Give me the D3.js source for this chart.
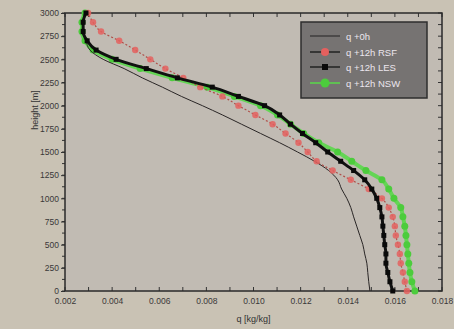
<!DOCTYPE html>
<html><head><meta charset="utf-8">
<script src="https://cdn.jsdelivr.net/npm/d3@7"></script>
<style>
html,body{margin:0;padding:0;background:#c9c2b4;}
svg{display:block;font-family:"Liberation Sans",Arial,sans-serif;}
</style></head>
<body><svg id="c" width="454" height="329"></svg>
<script>
// heights [m], ascending
const heights = d3.range(0, 3001, 100);
// specific humidity [kg/kg] per series, same order as heights
const q0h = [0.01494,0.01489,0.01485,0.01481,0.01472,0.01464,0.01451,0.01438,0.01425,0.01413,0.01396,0.01374,0.01357,0.01319,0.01259,0.01187,0.01111,0.01030,0.00949,0.00868,0.00783,0.00694,0.00613,0.00528,0.00451,0.00362,0.00306,0.00289,0.00281,0.00277,0.00285];
const qRSF = [0.01651,0.01642,0.01634,0.01625,0.01621,0.01613,0.01604,0.01600,0.01591,0.01574,0.01545,0.01489,0.01413,0.01336,0.01268,0.01230,0.01191,0.01136,0.01081,0.01008,0.00936,0.00868,0.00774,0.00702,0.00626,0.00562,0.00498,0.00430,0.00353,0.00319,0.00298];
const qLES = [0.01591,0.01579,0.01570,0.01562,0.01562,0.01557,0.01553,0.01549,0.01545,0.01536,0.01523,0.01502,0.01472,0.01425,0.01370,0.01315,0.01264,0.01208,0.01157,0.01111,0.01047,0.00936,0.00825,0.00677,0.00545,0.00417,0.00332,0.00294,0.00277,0.00277,0.00289];
const qNSW = [0.01685,0.01672,0.01664,0.01659,0.01655,0.01651,0.01647,0.01642,0.01634,0.01625,0.01596,0.01574,0.01545,0.01477,0.01417,0.01357,0.01277,0.01213,0.01157,0.01102,0.01030,0.00919,0.00804,0.00655,0.00519,0.00400,0.00319,0.00285,0.00272,0.00272,0.00285];
const seriesNames = ["q +0h","q +12h RSF","q +12h LES","q +12h NSW"];
const xTicks = [0.002,0.004,0.006,0.008,0.010,0.012,0.014,0.016,0.018];
const yTicks = [0,250,500,750,1000,1250,1500,1750,2000,2250,2500,2750,3000];
const xLabel = "q [kg/kg]";
const yLabel = "height [m]";

const svg = d3.select("#c");
const L = 65, R = 442, T = 13, B = 291;
const x = d3.scaleLinear().domain([0.002, 0.018]).range([L, R]);
const y = d3.scaleLinear().domain([0, 3000]).range([B, T]);

svg.append("rect").attr("x", L).attr("y", T).attr("width", R - L).attr("height", B - T).attr("fill", "#c1bbb3");

const minorX = d3.range(0.002, 0.01801, 0.001);
const minorY = d3.range(0, 3001, 125);

// axes
const gx = svg.append("g").attr("transform", `translate(0,${B})`)
  .call(d3.axisBottom(x).tickValues(xTicks).tickFormat(d3.format(".3f")).tickSize(0).tickPadding(7));
const gy = svg.append("g").attr("transform", `translate(${L},0)`)
  .call(d3.axisLeft(y).tickValues(yTicks).tickFormat(d3.format("d")).tickSize(4).tickPadding(2));
[gx, gy].forEach(g => {
  g.select(".domain").remove();
  g.selectAll("text").attr("fill", "#3a3838").attr("font-size", "8.5px");
  g.selectAll("line").attr("stroke", "#333");
});
// minor ticks
svg.append("g").selectAll("line").data(minorX).join("line")
  .attr("x1", d => x(d)).attr("x2", d => x(d)).attr("y1", B).attr("y2", B - 4).attr("stroke", "#333");
svg.append("g").selectAll("line").data(minorX).join("line")
  .attr("x1", d => x(d)).attr("x2", d => x(d)).attr("y1", T).attr("y2", T + 4).attr("stroke", "#333");
svg.append("g").selectAll("line").data(minorY).join("line")
  .attr("x1", R).attr("x2", R - 4).attr("y1", d => y(d)).attr("y2", d => y(d)).attr("stroke", "#333");
svg.append("g").selectAll("line").data(minorY).join("line")
  .attr("x1", L).attr("x2", L - 3).attr("y1", d => y(d)).attr("y2", d => y(d)).attr("stroke", "#333");

svg.append("rect").attr("x", L).attr("y", T).attr("width", R - L).attr("height", B - T)
  .attr("fill", "none").attr("stroke", "#2a2a2a").attr("stroke-width", 1.5);

svg.append("text").attr("x", (L + R) / 2).attr("y", 322).attr("text-anchor", "middle")
  .attr("font-size", "9px").attr("fill", "#333").text(xLabel);
svg.append("text").attr("transform", "translate(38,110) rotate(-90)").attr("text-anchor", "middle")
  .attr("font-size", "9px").attr("fill", "#333").text(yLabel);

const mk = arr => heights.map((h, i) => [arr[i], h]);
const line = d3.line().x(d => x(d[0])).y(d => y(d[1])).curve(d3.curveMonotoneY);
const plot = svg.append("g");

// NSW green
plot.append("path").datum(mk(qNSW)).attr("d", line).attr("fill", "none")
  .attr("stroke", "#5ad84a").attr("stroke-width", 4).attr("opacity", 0.9);
plot.append("g").selectAll("circle").data(mk(qNSW)).join("circle")
  .attr("cx", d => x(d[0])).attr("cy", d => y(d[1])).attr("r", 3.5).attr("fill", "#4ccc3c");
// q +0h thin
plot.append("path").datum(mk(q0h)).attr("d", line).attr("fill", "none")
  .attr("stroke", "#2a2626").attr("stroke-width", 1);
// RSF red
plot.append("path").datum(mk(qRSF)).attr("d", line).attr("fill", "none")
  .attr("stroke", "#b0504a").attr("stroke-width", 1.2).attr("stroke-dasharray", "2,2");
plot.append("g").selectAll("circle").data(mk(qRSF)).join("circle")
  .attr("cx", d => x(d[0])).attr("cy", d => y(d[1])).attr("r", 3.2).attr("fill", "#e4605e").attr("opacity", 0.85);
// LES black
plot.append("path").datum(mk(qLES)).attr("d", line).attr("fill", "none")
  .attr("stroke", "#111").attr("stroke-width", 3);
plot.append("g").selectAll("rect").data(mk(qLES)).join("rect")
  .attr("x", d => x(d[0]) - 2.5).attr("y", d => y(d[1]) - 2.5).attr("width", 5).attr("height", 5).attr("fill", "#0a0a0a");

// legend
const lg = svg.append("g");
lg.append("rect").attr("x", 301).attr("y", 22).attr("width", 126).attr("height", 76)
  .attr("fill", "#767372").attr("stroke", "#2e2e2e").attr("stroke-width", 1.5);
const legY = [36, 52, 67, 83];
const legColor = ["#222", "#e4605e", "#0a0a0a", "#4ccc3c"];
seriesNames.forEach((n, i) => {
  const yy = legY[i];
  lg.append("line").attr("x1", 310).attr("x2", 340).attr("y1", yy).attr("y2", yy)
    .attr("stroke", i === 3 ? "#5ad84a" : "#222").attr("stroke-width", i === 0 ? 1 : 1.5);
  if (i === 1) lg.append("circle").attr("cx", 325).attr("cy", yy).attr("r", 4).attr("fill", legColor[i]);
  if (i === 2) lg.append("rect").attr("x", 322).attr("y", yy - 3).attr("width", 6).attr("height", 6).attr("fill", legColor[i]);
  if (i === 3) lg.append("circle").attr("cx", 325).attr("cy", yy).attr("r", 4.5).attr("fill", legColor[i]);
  lg.append("text").attr("x", 346).attr("y", yy + 3.5).attr("font-size", "9.5px").attr("fill", "#ece6ee").text(n);
});
</script></body></html>
